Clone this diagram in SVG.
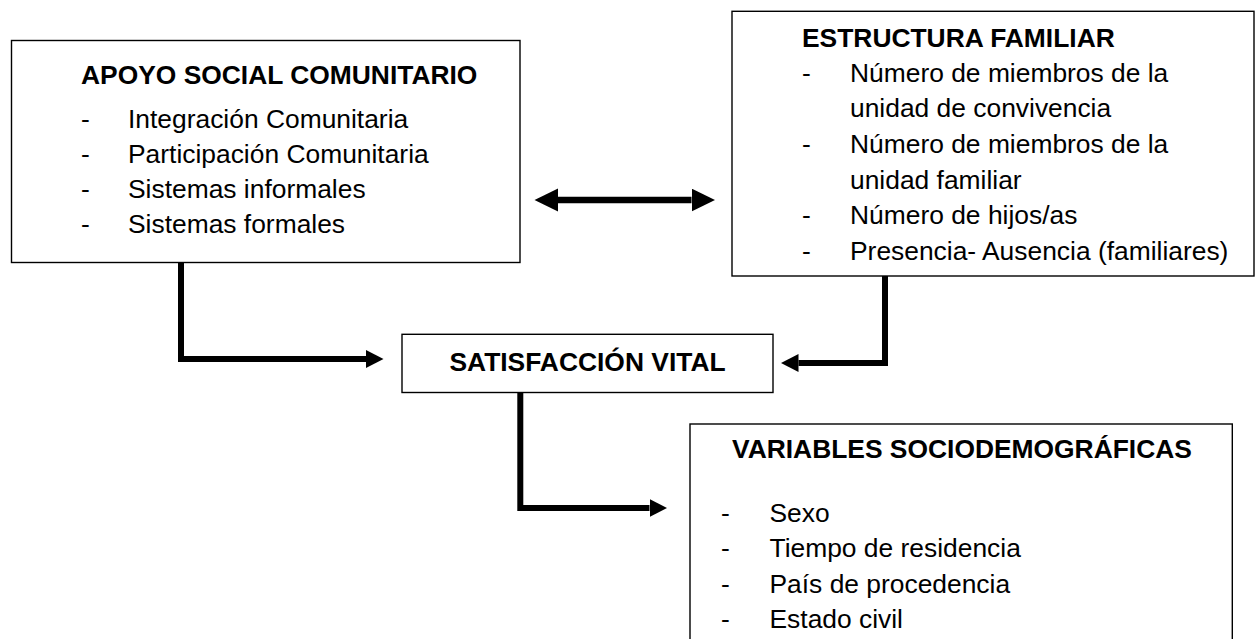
<svg xmlns="http://www.w3.org/2000/svg" width="1256" height="639" viewBox="0 0 1256 639">
<style>
.box{fill:#fff;stroke:#000;stroke-width:1.4}
.t{font-family:"Liberation Sans",Arial,sans-serif;font-size:26.4px;fill:#000}
.b{font-weight:bold}
.c{fill:none;stroke:#000;stroke-width:6;stroke-linejoin:miter;stroke-linecap:butt}
</style>
<defs>
<marker id="ah" markerUnits="userSpaceOnUse" markerWidth="18" markerHeight="18" viewBox="0 0 18 18" refX="0" refY="9" orient="auto"><path d="M0,0 L17.5,9 L0,18 z" fill="#000"/></marker>
<marker id="ahb" markerUnits="userSpaceOnUse" markerWidth="24" markerHeight="24" viewBox="0 0 24 24" refX="0" refY="11.5" orient="auto-start-reverse"><path d="M0,0 L23.5,11.5 L0,23 z" fill="#000"/></marker>
</defs>
<g id="connectors">
<path class="c" style="stroke-width:6.5" d="M558,200 L691.5,200" marker-start="url(#ahb)" marker-end="url(#ahb)"/>
<path class="c" d="M181,263 L181,359 L366,359" marker-end="url(#ah)"/>
<path class="c" d="M885,276 L885,363 L798.5,363" marker-end="url(#ah)"/>
<path class="c" d="M520.3,393 L520.3,508 L649.5,508" marker-end="url(#ah)"/>
</g>
<g id="apoyo">
<rect class="box" x="11.5" y="40.5" width="508.5" height="222"/>
<text class="t b" x="81" y="83.5">APOYO SOCIAL COMUNITARIO</text>
<text class="t" x="81" y="127.5">-</text><text class="t" x="128" y="127.5">Integración Comunitaria</text>
<text class="t" x="81" y="162.5">-</text><text class="t" x="128" y="162.5">Participación Comunitaria</text>
<text class="t" x="81" y="197.5">-</text><text class="t" x="128" y="197.5">Sistemas informales</text>
<text class="t" x="81" y="232.5">-</text><text class="t" x="128" y="232.5">Sistemas formales</text>
</g>
<g id="estructura">
<rect class="box" x="732" y="11.3" width="522" height="264.7"/>
<text class="t b" x="802" y="46.7">ESTRUCTURA FAMILIAR</text>
<text class="t" x="802" y="81.8">-</text><text class="t" x="850" y="81.8">Número de miembros de la</text>
<text class="t" x="850" y="117.3">unidad de convivencia</text>
<text class="t" x="802" y="153">-</text><text class="t" x="850" y="153">Número de miembros de la</text>
<text class="t" x="850" y="188.5">unidad familiar</text>
<text class="t" x="802" y="224">-</text><text class="t" x="850" y="224">Número de hijos/as</text>
<text class="t" x="802" y="259.5">-</text><text class="t" x="850" y="259.5">Presencia- Ausencia (familiares)</text>
</g>
<g id="satisfaccion">
<rect class="box" x="402" y="334.3" width="371" height="58.2"/>
<text class="t b" x="587.5" y="370.5" text-anchor="middle">SATISFACCIÓN VITAL</text>
</g>
<g id="variables">
<rect class="box" x="690" y="424" width="542.3" height="230"/>
<text class="t b" x="732" y="458">VARIABLES SOCIODEMOGRÁFICAS</text>
<text class="t" x="721" y="521.5">-</text><text class="t" x="769.5" y="521.5">Sexo</text>
<text class="t" x="721" y="557">-</text><text class="t" x="769.5" y="557">Tiempo de residencia</text>
<text class="t" x="721" y="592.5">-</text><text class="t" x="769.5" y="592.5">País de procedencia</text>
<text class="t" x="721" y="628">-</text><text class="t" x="769.5" y="628">Estado civil</text>
</g>
</svg>
